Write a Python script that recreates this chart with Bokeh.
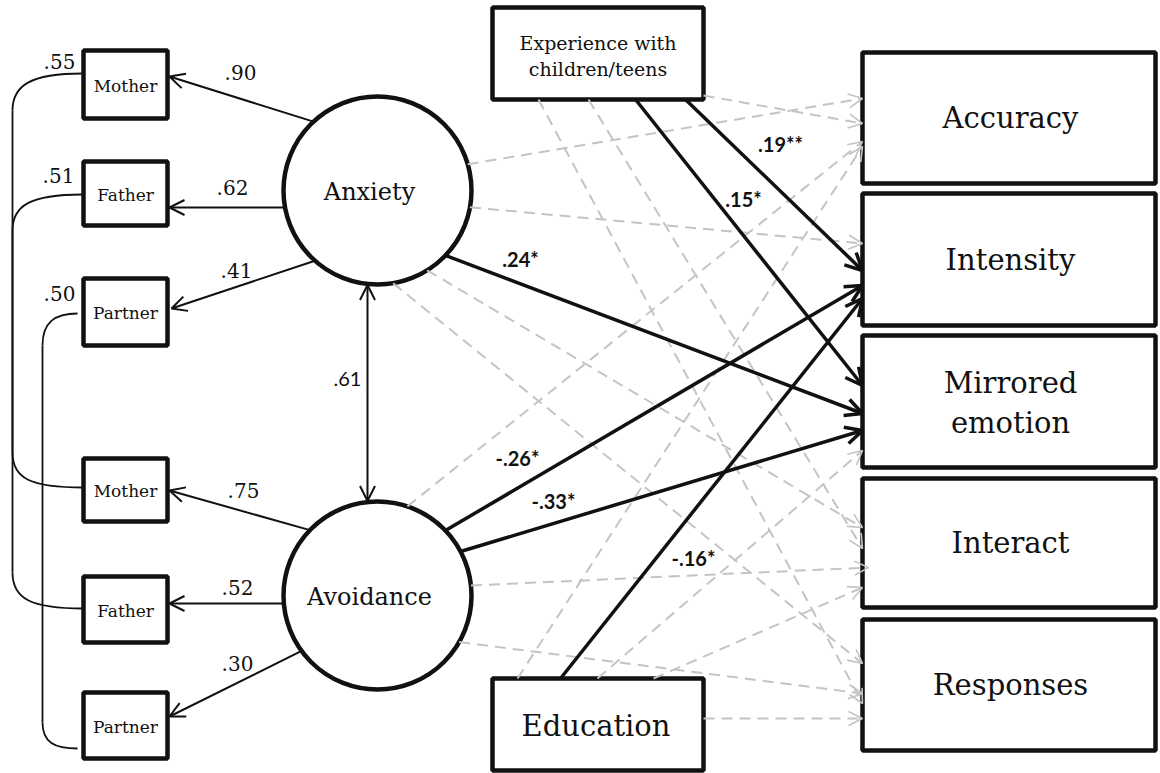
import math
from bokeh.plotting import figure
from bokeh.models import Range1d, Arrow, OpenHead, ColumnDataSource
from bokeh.core.properties import value
from bokeh.embed import file_html
from bokeh.resources import INLINE

# ---------------- data ----------------
indicators = ["Mother", "Father", "Partner"]
anxiety_loadings = [0.90, 0.62, 0.41]
avoidance_loadings = [0.75, 0.52, 0.30]
residual_covariances = [0.55, 0.51, 0.50]
latent_correlation = 0.61
latents = ["Anxiety", "Avoidance"]
covariates = ["Experience", "Education"]
covariate_labels = [["Experience with", "children/teens"], ["Education"]]
outcomes = ["Accuracy", "Intensity", "Mirrored", "Interact", "Responses"]
outcome_labels = [["Accuracy"], ["Intensity"], ["Mirrored", "emotion"], ["Interact"], ["Responses"]]
predictors = ["Anxiety", "Avoidance", "Experience", "Education"]
# significant structural paths
sig_from = ["Anxiety", "Experience", "Experience", "Avoidance", "Avoidance", "Education"]
sig_to = ["Mirrored", "Intensity", "Mirrored", "Intensity", "Mirrored", "Intensity"]
sig_beta = [0.24, 0.19, 0.15, -0.26, -0.33, -0.16]
sig_stars = ["*", "**", "*", "*", "*", "*"]

# ---------------- layout ----------------
W, H = 1160, 773
X0, Y0 = 0, 0
SERIF = value("DejaVu Serif")
SANS = value("Lato")
INK = "#111111"
GREY = "#c4c4c4"

IND_X0, IND_X1 = 83, 167
ind_boxes = {"Anxiety": [(50, 118), (161, 225), (278, 345)],
             "Avoidance": [(458, 521), (576, 642), (692, 758)]}
lat_center = {"Anxiety": (377, 190), "Avoidance": (377, 595)}
R = 94
cov_box = {"Experience": (492, 703, 7, 99), "Education": (492, 703, 678, 770)}
OUT_X0, OUT_X1 = 862, 1155
out_y = {"Accuracy": (52, 183), "Intensity": (193, 325), "Mirrored": (335, 467),
         "Interact": (478, 607), "Responses": (619, 750)}

# loading arrows: (tip on indicator box, guide toward latent)
load_ports = {"Anxiety": [((169, 76), (303, 118)), ((169, 207), (300, 207)), ((171, 308), (300, 265))],
              "Avoidance": [((169, 490), (300, 527)), ((169, 603), (300, 603)), ((169, 716), (292, 655))]}
load_lab_pos = {"Anxiety": [(240, 72), (232, 187), (236, 270)],
                "Avoidance": [(243, 490), (237, 587), (237, 663)]}
resid_lab_pos = [(59, 61), (58, 175), (59, 293)]

# structural ports: predictor -> outcome: (start / guide point, tip y)
ports = {
    ("Anxiety", "Accuracy"): ((472, 163), 98),
    ("Anxiety", "Intensity"): ((472, 207), 243),
    ("Anxiety", "Mirrored"): ((445, 255), 413),
    ("Anxiety", "Interact"): ((427, 270), 527),
    ("Anxiety", "Responses"): ((393, 283), 663),
    ("Avoidance", "Accuracy"): ((408, 505), 141),
    ("Avoidance", "Intensity"): ((445, 530), 285),
    ("Avoidance", "Mirrored"): ((460, 551), 430),
    ("Avoidance", "Interact"): ((471, 585), 567),
    ("Avoidance", "Responses"): ((462, 642), 693),
    ("Experience", "Accuracy"): ((703, 95), 123),
    ("Experience", "Intensity"): ((685, 99), 270),
    ("Experience", "Mirrored"): ((635, 99), 385),
    ("Experience", "Interact"): ((588, 99), 548),
    ("Experience", "Responses"): ((538, 99), 703),
    ("Education", "Accuracy"): ((517, 678), 146),
    ("Education", "Intensity"): ((560, 678), 298),
    ("Education", "Mirrored"): ((597, 678), 450),
    ("Education", "Interact"): ((653, 678), 587),
    ("Education", "Responses"): ((703, 718), 718),
}
sig_lab_pos = [(520, 258), (780, 143), (743, 198), (517, 457), (553, 500), (693, 557)]


def clip_to_circle(E, G, C, r):
    dx, dy = G[0] - E[0], G[1] - E[1]
    fx, fy = E[0] - C[0], E[1] - C[1]
    a = dx * dx + dy * dy
    b = 2 * (fx * dx + fy * dy)
    c = fx * fx + fy * fy - r * r
    disc = b * b - 4 * a * c
    if disc < 0:
        return G
    t = (-b - math.sqrt(disc)) / (2 * a)
    return (E[0] + t * dx, E[1] + t * dy)


def fmt(v):
    s = f"{abs(v):.2f}".lstrip("0")
    return ("-" if v < 0 else "") + s


p = figure(width=W, height=H, x_range=Range1d(X0, X0 + W), y_range=Range1d(Y0 + H, Y0),
           output_backend="svg", toolbar_location=None, min_border=0,
           x_axis_location=None, y_axis_location=None)
p.grid.visible = False
p.outline_line_color = None
p.background_fill_color = "white"

# ---- residual covariance curves ----
curves = [
    [(82, 73), (30, 73), (12, 85), (12, 110), (12, 452), (12, 478), (30, 487), (83, 487)],
    [(82, 194), (30, 194), (12, 205), (12, 230), (12, 572), (12, 598), (30, 608), (83, 608)],
    [(77, 313), (54, 313), (42, 322), (42, 345), (42, 722), (42, 742), (54, 748), (77, 748)],
]
for c in curves:
    p.bezier(x0=[c[0][0]], y0=[c[0][1]], cx0=[c[1][0]], cy0=[c[1][1]], cx1=[c[2][0]], cy1=[c[2][1]],
             x1=[c[3][0]], y1=[c[3][1]], line_color=INK, line_width=1.8)
    p.line([c[3][0], c[4][0]], [c[3][1], c[4][1]], line_color=INK, line_width=1.8)
    p.bezier(x0=[c[4][0]], y0=[c[4][1]], cx0=[c[5][0]], cy0=[c[5][1]], cx1=[c[6][0]], cy1=[c[6][1]],
             x1=[c[7][0]], y1=[c[7][1]], line_color=INK, line_width=1.8)

# ---- structural paths ----
sig_set = {(f, t) for f, t in zip(sig_from, sig_to)}
ns = dict(xs=[], ys=[], xe=[], ye=[])
sg = dict(xs=[], ys=[], xe=[], ye=[])
for pr in predictors:
    for oc in outcomes:
        guide, ty = ports[(pr, oc)]
        tip = (OUT_X0 + (6 if (pr, oc) == ("Avoidance", "Interact") else 0), ty)
        if pr in lat_center:
            start = clip_to_circle(tip, guide, lat_center[pr], R)
        else:
            start = guide
        d = sg if (pr, oc) in sig_set else ns
        d["xs"].append(start[0]); d["ys"].append(start[1])
        d["xe"].append(tip[0]); d["ye"].append(tip[1])

p.add_layout(Arrow(end=OpenHead(size=14, line_width=1.6, line_color=GREY),
                   source=ColumnDataSource(ns), x_start="xs", y_start="ys", x_end="xe", y_end="ye",
                   line_color=GREY, line_width=2, line_dash="11 7"))
p.add_layout(Arrow(end=OpenHead(size=17, line_width=3.5, line_color=INK),
                   source=ColumnDataSource(sg), x_start="xs", y_start="ys", x_end="xe", y_end="ye",
                   line_color=INK, line_width=3.5))

# ---- loading arrows ----
ld = dict(xs=[], ys=[], xe=[], ye=[])
for lat in latents:
    for tip, guide in load_ports[lat]:
        s = clip_to_circle(tip, guide, lat_center[lat], R)
        ld["xs"].append(s[0]); ld["ys"].append(s[1])
        ld["xe"].append(tip[0]); ld["ye"].append(tip[1])
p.add_layout(Arrow(end=OpenHead(size=15, line_width=2, line_color=INK),
                   source=ColumnDataSource(ld), x_start="xs", y_start="ys", x_end="xe", y_end="ye",
                   line_color=INK, line_width=2))

# ---- latent correlation ----
ax = 367
a_bot = lat_center["Anxiety"][1] + math.sqrt(R * R - (ax - lat_center["Anxiety"][0]) ** 2)
v_top = lat_center["Avoidance"][1] - math.sqrt(R * R - (ax - lat_center["Avoidance"][0]) ** 2)
p.add_layout(Arrow(start=OpenHead(size=15, line_width=2, line_color=INK),
                   end=OpenHead(size=15, line_width=2, line_color=INK),
                   x_start=ax, y_start=a_bot + 1, x_end=ax, y_end=v_top - 1,
                   line_color=INK, line_width=2))

# ---- latent circles ----
p.circle(x=[lat_center[l][0] for l in latents], y=[lat_center[l][1] for l in latents], radius=R,
         fill_color="white", line_color=INK, line_width=4.5)
p.text(x=[lat_center[l][0] - 8 for l in latents], y=[lat_center[l][1] + 1 for l in latents], text=latents,
       text_font=SERIF, text_font_size="24px", text_align="center", text_baseline="middle", text_color=INK)

# ---- indicator boxes ----
bx = dict(l=[], r=[], t=[], b=[], x=[], y=[], txt=[])
for lat in latents:
    for name, (y0, y1) in zip(indicators, ind_boxes[lat]):
        bx["l"].append(IND_X0); bx["r"].append(IND_X1); bx["t"].append(y0); bx["b"].append(y1)
        bx["x"].append((IND_X0 + IND_X1) / 2); bx["y"].append((y0 + y1) / 2 + 1); bx["txt"].append(name)
p.quad(left=bx["l"], right=bx["r"], top=bx["t"], bottom=bx["b"], fill_color="white",
       line_color=INK, line_width=4.5)
p.text(x=bx["x"], y=bx["y"], text=bx["txt"], text_font=SERIF, text_font_size="17px",
       text_align="center", text_baseline="middle", text_color=INK)

# ---- covariate boxes ----
for cv, lines in zip(covariates, covariate_labels):
    x0, x1, y0, y1 = cov_box[cv]
    p.quad(left=[x0], right=[x1], top=[y0], bottom=[y1], fill_color="white", line_color=INK, line_width=4.5)
    if len(lines) == 2:
        p.text(x=[(x0 + x1) / 2] * 2, y=[42, 68], text=lines, text_font=SERIF, text_font_size="19px",
               text_align="center", text_baseline="middle", text_color=INK)
    else:
        p.text(x=[(x0 + x1) / 2 - 2], y=[(y0 + y1) / 2 + 1], text=lines, text_font=SERIF,
               text_font_size="29px", text_align="center", text_baseline="middle", text_color=INK)

# ---- outcome boxes ----
for oc, lines in zip(outcomes, outcome_labels):
    y0, y1 = out_y[oc]
    p.quad(left=[OUT_X0], right=[OUT_X1], top=[y0], bottom=[y1], fill_color="white",
           line_color=INK, line_width=4.5)
    cy = (y0 + y1) / 2
    if len(lines) == 2:
        ys = [cy - 19, cy + 21]
    else:
        ys = [cy]
    p.text(x=[1010] * len(lines), y=ys, text=lines, text_font=SERIF, text_font_size="29px",
           text_align="center", text_baseline="middle", text_color=INK)

# ---- numeric labels ----
lx, ly, lt = [], [], []
for lat, loads in zip(latents, [anxiety_loadings, avoidance_loadings]):
    for (x, y), v in zip(load_lab_pos[lat], loads):
        lx.append(x); ly.append(y); lt.append(fmt(v))
for (x, y), v in zip(resid_lab_pos, residual_covariances):
    lx.append(x); ly.append(y); lt.append(fmt(v))
lx.append(347); ly.append(378); lt.append(fmt(latent_correlation))
p.text(x=lx[:-1], y=ly[:-1], text=lt[:-1], text_font=SERIF, text_font_size="20px",
       text_align="center", text_baseline="middle", text_color=INK)
p.text(x=lx[-1:], y=ly[-1:], text=lt[-1:], text_font=SANS, text_font_size="20px",
       text_align="center", text_baseline="middle", text_color=INK)

p.text(x=[q[0] for q in sig_lab_pos], y=[q[1] for q in sig_lab_pos],
       text=[fmt(b) + s for b, s in zip(sig_beta, sig_stars)], text_font=SANS, text_font_size="20px",
       text_font_style="bold", text_align="center", text_baseline="middle", text_color=INK)

open("out.html", "w").write(file_html(p, INLINE))
